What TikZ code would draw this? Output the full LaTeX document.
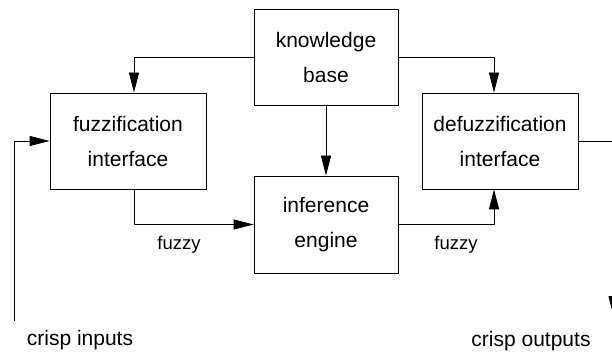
\documentclass[tikz,border=0pt]{standalone}
\usepackage{fontspec}
\setmainfont{Liberation Sans}
\usetikzlibrary{arrows.meta}
\begin{document}
\begin{tikzpicture}[x=1pt,y=-1pt,>={Triangle[length=20pt,width=10pt]},line join=round,line width=0.8pt,
					every node/.style={font=\fontsize{21}{35}\selectfont},
					blk/.style={draw,align=center,inner sep=0pt,minimum height=96pt},
					lab/.style={inner sep=0pt}]
					\clip (0,0) rectangle (612,352);
					\path
					(14,321) coordinate (in)
					(613.5,141) coordinate (bend)
					(613.5,316) coordinate (out);
					\node[blk,minimum width=144pt] (kb) at (326,57) {knowledge\\base};
					\node[blk,minimum width=156pt] (fuzz) at (128,141) {fuzzification\\interface};
					\node[blk,minimum width=156pt] (defuzz) at (500,141) {defuzzification\\interface};
					\node[blk,minimum width=144pt,minimum height=97pt] (inf) at (326,224.5) {inference\\engine};
					\draw[->] (kb.west) -| ([xshift=6pt]fuzz.north);
					\draw[->] (kb.east) -| ([xshift=-6pt]defuzz.north);
					\draw[->] (kb) -- (inf);
					\draw[->] ([xshift=6pt]fuzz.south) |- (inf.west);
					\draw[->] (inf.east) -| ([xshift=-6pt]defuzz.south);
					\draw[->] (in) |- (fuzz.west);
					\draw[->] (defuzz.east) -- (bend) -- (out);
					\node[lab,font=\fontsize{18.5}{22}\selectfont] (f1) at (179,245) {fuzzy};
					\node[lab,font=\fontsize{18.5}{22}\selectfont] (f2) at (456,245) {fuzzy};
					\node[lab] (ci) at (80,340) {crisp inputs};
					\node[lab] (co) at (531,341) {crisp outputs};
				\end{tikzpicture}
\end{document}
